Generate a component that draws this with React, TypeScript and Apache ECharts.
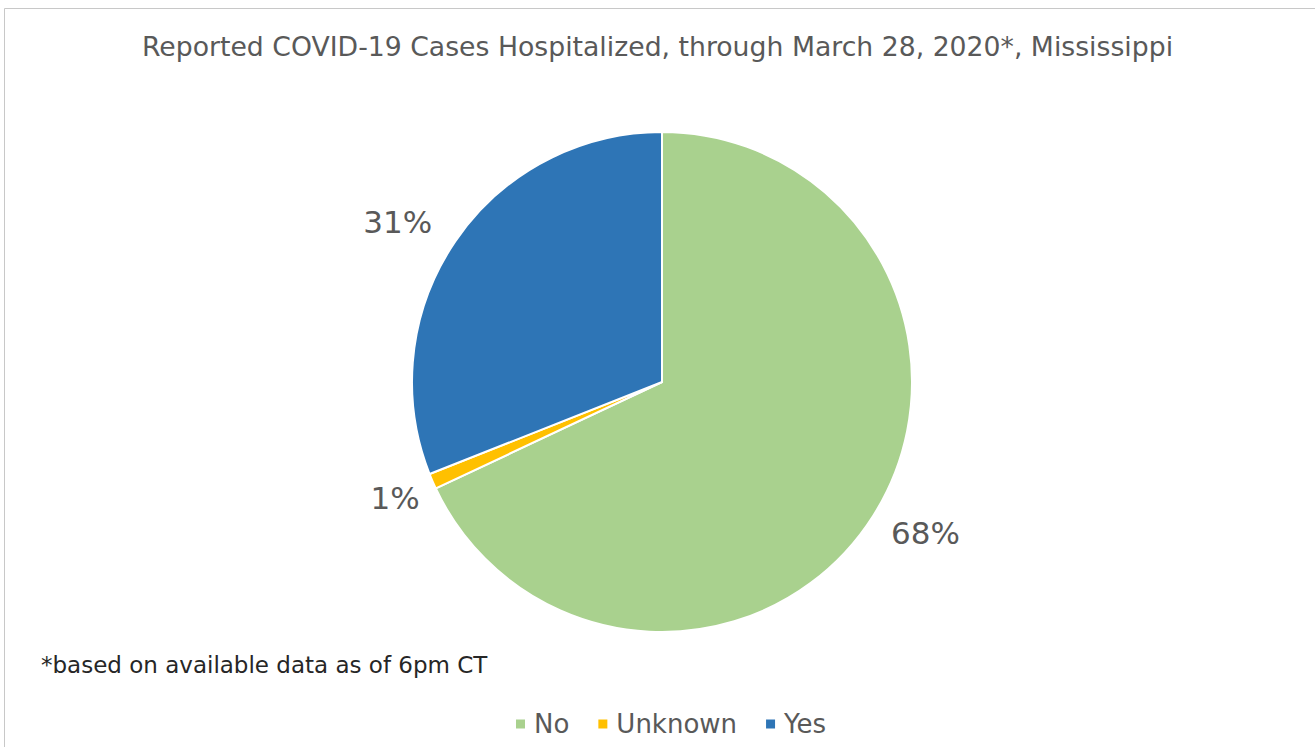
import React, { useEffect, useRef } from "react";
import * as echarts from "echarts";

const categories = ["No", "Unknown", "Yes"];
const values = [68, 1, 31];
const colors = ["#a9d18e", "#ffc000", "#2e75b6"];
const titleText = "Reported COVID-19 Cases Hospitalized, through March 28, 2020*, Mississippi";
const footnote = "*based on available data as of 6pm CT";

const FONT = "DejaVu Sans";
const labelNudges: Record<string, number[]> = { No: [6, -12], Unknown: [13, -5], Yes: [-12, 11] };

export default function App() {
  const ref = useRef<HTMLDivElement>(null);
  useEffect(() => {
    if (!ref.current) return;
    const chart = echarts.init(ref.current, null, { renderer: "svg" });
    const data = categories.map((name, i) => ({
      name,
      value: values[i],
      itemStyle: { color: colors[i] },
    }));
    const labelData = categories.map((name, i) => ({
      name,
      value: values[i],
      itemStyle: { color: "transparent" },
      label: { offset: labelNudges[name] },
    }));
    chart.setOption({
      animation: false,
      backgroundColor: "#ffffff",
      title: [
        {
          text: titleText,
          left: "center",
          top: 28,
          textStyle: { fontFamily: FONT, fontSize: 26.7, fontWeight: "normal", color: "#595959" },
        },
        {
          text: footnote,
          left: 36,
          top: 648,
          textStyle: { fontFamily: FONT, fontSize: 23, fontWeight: "normal", color: "#262626" },
        },
      ],
      legend: {
        data: categories,
        left: 509,
        top: 706,
        icon: "rect",
        itemWidth: 11,
        itemHeight: 11,
        itemGap: 27,
        selectedMode: false,
        textStyle: { fontFamily: FONT, fontSize: 26, color: "#595959", padding: [0, 0, 0, 3] },
      },
      graphic: [
        { type: "line", shape: { x1: 4.5, y1: 8.5, x2: 1315, y2: 8.5 }, style: { stroke: "#c8c8c8", lineWidth: 1 } },
        { type: "line", shape: { x1: 4.5, y1: 8.5, x2: 4.5, y2: 747 }, style: { stroke: "#c8c8c8", lineWidth: 1 } },
      ],
      series: [
        {
          type: "pie",
          center: [662, 382],
          radius: [0, 250],
          startAngle: 90,
          clockwise: true,
          data,
          label: { show: false },
          labelLine: { show: false },
          itemStyle: { borderColor: "#ffffff", borderWidth: 2 },
          emphasis: { disabled: true },
          silent: true,
        },
        {
          type: "pie",
          center: [662, 382],
          radius: [0, 604],
          startAngle: 90,
          clockwise: true,
          data: labelData,
          silent: true,
          legendHoverLink: false,
          emphasis: { disabled: true },
          label: {
            show: true,
            position: "inside",
            formatter: "{c}%",
            fontFamily: FONT,
            fontSize: 31,
            color: "#595959",
          },
          labelLine: { show: false },
          z: 3,
        },
      ],
    });
    return () => chart.dispose();
  }, []);
  return (
    <div
      ref={ref}
      style={{ position: "absolute", left: 0, top: 0, width: 1315, height: 747 }}
    />
  );
}
